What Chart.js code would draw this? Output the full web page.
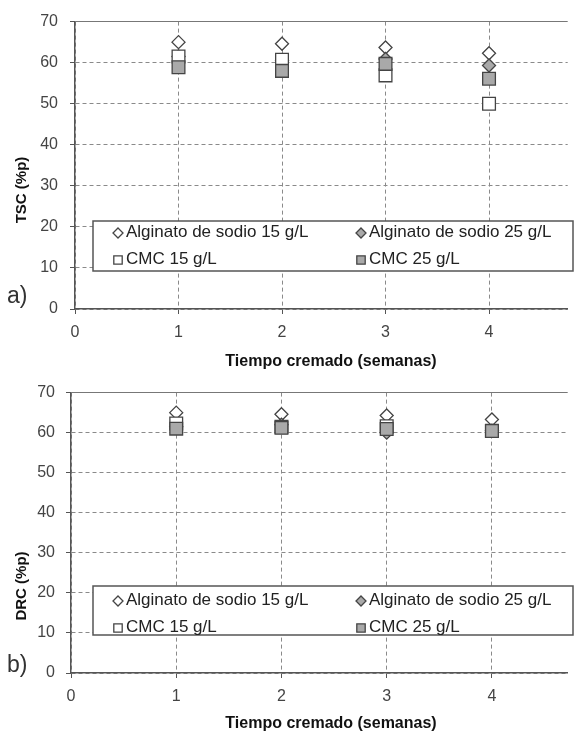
<!DOCTYPE html>
<html>
<head>
<meta charset="utf-8">
<script src="https://cdn.jsdelivr.net/npm/chart.js@4.4.0/dist/chart.umd.min.js"></script>
<style>
  html, body { margin: 0; padding: 0; background: #fff; }
  #wrap { position: relative; width: 578px; height: 735px; overflow: hidden; }
  .panel { position: absolute; left: 0; width: 578px; }
</style>
</head>
<body>
<div id="wrap">
  <div class="panel" style="top:0;height:372px"><canvas id="chartA"></canvas></div>
  <div class="panel" style="top:372px;height:363px"><canvas id="chartB"></canvas></div>
</div>
<script>
// ---- data ----
const weeks = [1, 2, 3, 4];
const seriesNames = ["Alginato de sodio 15 g/L", "Alginato de sodio 25 g/L", "CMC 15 g/L", "CMC 25 g/L"];
const xTicks = [0, 1, 2, 3, 4];
const yTicks = [0, 10, 20, 30, 40, 50, 60, 70];

// a) TSC (%p)
const tscAlg15 = [65.0, 64.6, 63.7, 62.3];
const tscAlg25 = [61.5, 60.5, 60.9, 59.3];
const tscCmc15 = [61.5, 60.7, 56.9, 50.0];
const tscCmc25 = [58.9, 58.0, 59.7, 56.1];

// b) DRC (%p)
const drcAlg15 = [65.0, 64.6, 64.3, 63.3];
const drcAlg25 = [61.5, 62.0, 60.0, 60.5];
const drcCmc15 = [62.3, 61.5, 61.6, 60.5];
const drcCmc25 = [61.0, 61.2, 60.9, 60.4];

const FONT = "'Liberation Sans', Arial, sans-serif";
const AXIS = "#555";
const GRID = "#8a8a8a";
const GREY_FILL = "#a9a9a9";

// marker look per series (Excel order: later series on top)
const styles = [
  { pointStyle: "rectRot", bg: "#fff", r: 6.5, order: 3 },
  { pointStyle: "rectRot", bg: GREY_FILL, r: 6.5, order: 2 },
  { pointStyle: "rect", bg: "#fff", r: 9, order: 1 },
  { pointStyle: "rect", bg: GREY_FILL, r: 9, order: 0 }
];

function toPoints(vals) {
  return weeks.map((w, i) => ({ x: w, y: vals[i] }));
}

function marker(ctx, kind, fill, x, y, half) {
  ctx.save();
  ctx.beginPath();
  if (kind === "rect") {
    ctx.rect(x - half, y - half, half * 2, half * 2);
  } else {
    ctx.moveTo(x, y - half);
    ctx.lineTo(x + half, y);
    ctx.lineTo(x, y + half);
    ctx.lineTo(x - half, y);
    ctx.closePath();
  }
  ctx.fillStyle = fill;
  ctx.fill();
  ctx.lineWidth = 1.3;
  ctx.strokeStyle = "#444";
  ctx.stroke();
  ctx.restore();
}

// legend box, axis titles and panel tag drawn on top
const decor = {
  id: "decor",
  afterDraw(chart, args, o) {
    const ctx = chart.ctx;
    ctx.save();
    // legend
    const [bx, by, bw, bh] = o.box;
    ctx.fillStyle = "#fff";
    ctx.fillRect(bx, by, bw, bh);
    ctx.lineWidth = 1.5;
    ctx.strokeStyle = "#555";
    ctx.strokeRect(bx, by, bw, bh);
    ctx.font = "17px " + FONT;
    ctx.textBaseline = "middle";
    ctx.textAlign = "left";
    seriesNames.forEach((name, i) => {
      const col = i % 2, row = Math.floor(i / 2);
      const mx = o.cols[col], my = o.rows[row];
      marker(ctx, styles[i].pointStyle, styles[i].bg, mx, my + 1, styles[i].pointStyle === "rect" ? 4.2 : 5);
      ctx.fillStyle = "#222";
      ctx.fillText(name, mx + 8, my);
    });
    // y title
    ctx.save();
    ctx.translate(o.yTitle[1], o.yTitle[2]);
    ctx.rotate(-Math.PI / 2);
    ctx.font = "bold 15px " + FONT;
    ctx.textAlign = "center";
    ctx.fillStyle = "#111";
    ctx.fillText(o.yTitle[0], 0, 0);
    ctx.restore();
    // x title
    ctx.font = "bold 16px " + FONT;
    ctx.textAlign = "center";
    ctx.fillStyle = "#111";
    ctx.fillText(o.xTitle[0], o.xTitle[1], o.xTitle[2]);
    // tag
    ctx.font = "23px " + FONT;
    ctx.textAlign = "left";
    ctx.fillStyle = "#333";
    ctx.fillText(o.tag[0], o.tag[1], o.tag[2]);
    ctx.restore();
  }
};

function makeChart(canvas, series, cfg) {
  return new Chart(canvas, {
    type: "scatter",
    data: {
      datasets: series.map((vals, i) => ({
        label: seriesNames[i],
        data: toPoints(vals),
        pointStyle: styles[i].pointStyle,
        pointRadius: styles[i].r,
        pointHoverRadius: styles[i].r,
        pointBackgroundColor: styles[i].bg,
        pointBorderColor: "#444",
        pointBorderWidth: 1.3,
        showLine: false,
        order: styles[i].order
      }))
    },
    options: {
      responsive: true,
      maintainAspectRatio: false,
      animation: false,
      events: [],
      layout: { padding: { top: 20, right: -15, left: 0, bottom: 0 } },
      plugins: {
        legend: { display: false },
        tooltip: { enabled: false },
        decor: cfg.decor
      },
      scales: {
        x: {
          type: "linear",
          min: 0,
          max: cfg.xMax,
          afterBuildTicks: (s) => { s.ticks = xTicks.map(v => ({ value: v })); },
          afterFit: (s) => { s.height = cfg.xHeight; },
          ticks: { color: "#444", padding: 9, font: { family: FONT, size: 16 } },
          grid: { color: GRID, lineWidth: 1, tickLength: 5, tickColor: AXIS, tickBorderDash: [] },
          border: { color: AXIS, width: 1.5, dash: [4, 3] }
        },
        y: {
          min: 0,
          max: 70,
          afterBuildTicks: (s) => { s.ticks = yTicks.map(v => ({ value: v })); },
          afterFit: (s) => { s.width = cfg.yWidth; },
          ticks: { color: "#444", padding: cfg.yPad, font: { family: FONT, size: 16 } },
          grid: {
            color: (c) => (c.tick && c.tick.value === 70 ? "#777" : GRID),
            lineWidth: 1, tickLength: 5, tickColor: AXIS, tickBorderDash: []
          },
          border: { color: AXIS, width: 1.5, dash: (c) => (c.tick && c.tick.value === 70 ? [] : [4, 3]) }
        }
      }
    },
    plugins: [decor]
  });
}

makeChart(document.getElementById("chartA"), [tscAlg15, tscAlg25, tscCmc15, tscCmc25], {
  xMax: 4.76, xHeight: 63, yWidth: 75, yPad: 12,
  decor: {
    box: [93, 221, 480, 50], rows: [232, 259], cols: [118, 361],
    yTitle: ["TSC (%p)", 22, 190], xTitle: ["Tiempo cremado (semanas)", 331, 362], tag: ["a)", 7, 297]
  }
});

makeChart(document.getElementById("chartB"), [drcAlg15, drcAlg25, drcCmc15, drcCmc25], {
  xMax: 4.72, xHeight: 62, yWidth: 71, yPad: 11,
  decor: {
    box: [93, 214, 480, 49], rows: [228, 255], cols: [118, 361],
    yTitle: ["DRC (%p)", 22, 214], xTitle: ["Tiempo cremado (semanas)", 331, 352], tag: ["b)", 7, 294]
  }
});
</script>
</body>
</html>
